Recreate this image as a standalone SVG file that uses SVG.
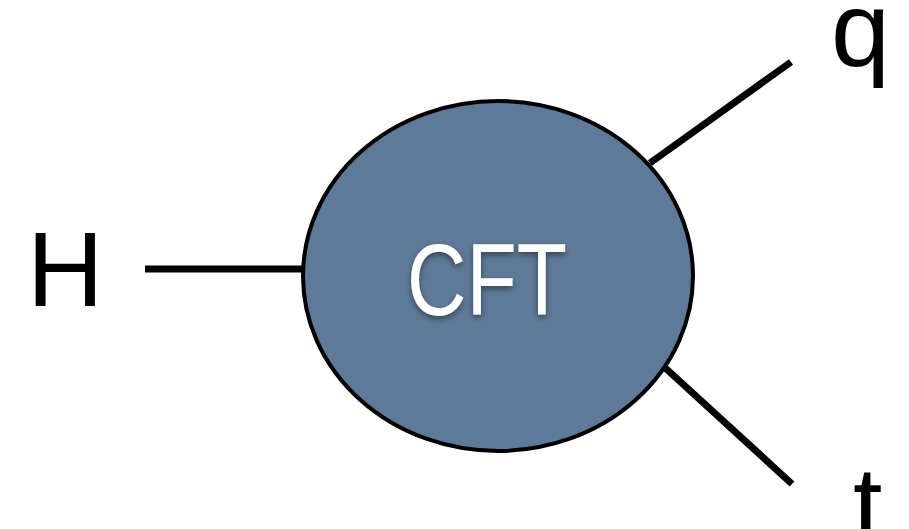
<svg xmlns="http://www.w3.org/2000/svg" width="909" height="529" viewBox="0 0 909 529">
  <style>
    .leg { stroke: #000; stroke-width: 7; fill: none; stroke-linecap: butt; }
    .label { font-family: "Liberation Sans", Arial, sans-serif; font-size: 106px; fill: #000; }
    .blob { fill: #5f7a98; stroke: #000; stroke-width: 4; }
    .title { font-family: "Liberation Sans", Arial, sans-serif; font-size: 102px; fill: #fff; }
  </style>
  <defs>
    <filter id="shadow" x="-20%" y="-20%" width="140%" height="140%">
      <feDropShadow dx="0" dy="3" stdDeviation="3" flood-color="#000" flood-opacity="0.45"/>
    </filter>
  </defs>
  <rect width="909" height="529" fill="#fff"/>

  <g id="connectors">
    <line class="leg" x1="145" y1="269" x2="304" y2="269"/>
    <line class="leg" x1="650" y1="163" x2="791" y2="62"/>
    <line class="leg" x1="662" y1="365" x2="792" y2="484"/>
  </g>

  <g id="cft">
    <ellipse class="blob" cx="498" cy="276" rx="195" ry="175"/>
    <text class="title" x="487" y="315" text-anchor="middle" textLength="160" lengthAdjust="spacingAndGlyphs" filter="url(#shadow)">CFT</text>
  </g>

  <g id="H">
    <text class="label" x="27" y="306">H</text>
  </g>
  <g id="q">
    <text class="label" x="831" y="66">q</text>
  </g>
  <g id="t">
    <text class="label" x="853" y="541">t</text>
  </g>
</svg>
